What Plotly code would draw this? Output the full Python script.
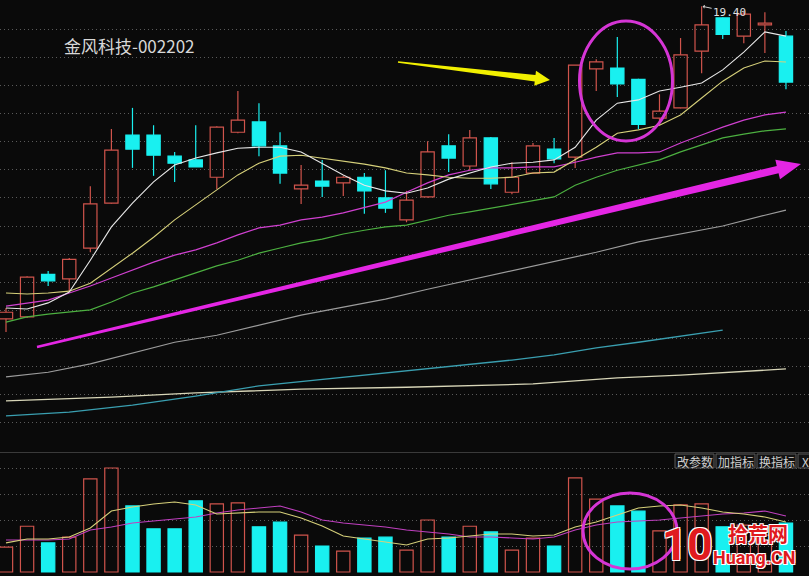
import plotly.graph_objects as go

W, H = 809, 576
BG = "#0a0a0a"
UP = "#d0544c"
DOWN = "#19f0f0"

# ---------------- daily bars ----------------
opens = [12.73, 12.77, 13.68, 13.58, 14.24, 15.20, 16.65, 16.65, 16.20, 16.12,
         15.75, 16.71, 16.93, 16.42, 15.50, 15.67, 15.63, 15.75, 15.31, 14.84,
         15.33, 16.42, 15.99, 16.59, 15.43, 15.84, 16.35, 16.18, 18.06, 18.08,
         17.84, 17.01, 17.23, 18.44, 19.15, 18.76, 19.00, 18.76]
closes = [12.87, 13.62, 13.54, 14.00, 15.18, 16.33, 16.35, 16.22, 16.05, 15.97,
          16.82, 16.97, 16.42, 15.84, 15.58, 15.56, 15.75, 15.46, 15.09, 15.26,
          16.29, 16.16, 16.59, 15.61, 15.75, 16.42, 16.14, 18.14, 18.21, 17.74,
          16.88, 17.16, 18.36, 19.00, 18.80, 19.23, 19.04, 17.78]
highs = [12.96, 13.64, 13.75, 14.03, 15.56, 16.78, 17.23, 16.86, 16.29, 16.86,
         16.84, 17.59, 17.33, 16.71, 16.01, 16.12, 15.78, 15.84, 15.90, 15.46,
         16.52, 16.67, 16.76, 16.61, 16.07, 16.48, 16.59, 18.14, 18.27, 18.74,
         17.85, 17.52, 18.72, 19.40, 19.16, 19.30, 19.27, 18.87]
lows = [12.45, 12.75, 13.43, 13.32, 14.15, 15.19, 15.95, 15.78, 15.65, 15.97,
        15.50, 16.69, 16.20, 15.61, 15.18, 15.33, 15.35, 14.97, 14.99, 14.79,
        15.32, 15.86, 15.90, 15.50, 15.39, 15.83, 16.05, 15.95, 17.59, 17.46,
        16.78, 16.86, 17.22, 17.97, 18.70, 18.61, 18.40, 17.63]
volume = [48, 88, 56, 67, 179, 200, 127, 83, 83, 137,
          131, 133, 87, 96, 71, 50, 40, 65, 67, 42,
          100, 67, 88, 77, 42, 65, 50, 181, 140, 127,
          117, 79, 129, 131, 87, 90, 71, 94]

# ---------------- moving averages (price pane) ----------------
ma5 = [12.96, 12.94, 13.07, 13.30, 13.98, 14.69, 15.20, 15.65, 16.01, 16.16,
       16.27, 16.37, 16.39, 16.39, 16.29, 16.05, 15.80, 15.58, 15.46, 15.41,
       15.52, 15.71, 15.84, 15.97, 16.05, 16.07, 16.12, 16.39, 16.97, 17.33,
       17.40, 17.59, 17.67, 17.76, 18.04, 18.42, 18.85, 18.76]
ma10 = [13.28, 13.26, 13.28, 13.32, 13.49, 13.81, 14.13, 14.47, 14.84, 15.16,
        15.48, 15.80, 16.05, 16.20, 16.22, 16.16, 16.10, 16.03, 15.95, 15.84,
        15.80, 15.75, 15.73, 15.73, 15.75, 15.84, 15.86, 16.12, 16.39, 16.69,
        16.76, 16.86, 17.08, 17.44, 17.80, 18.08, 18.23, 18.21]
ma20 = [13.00, 13.07, 13.13, 13.28, 13.43, 13.60, 13.77, 13.94, 14.09, 14.20,
        14.35, 14.52, 14.67, 14.73, 14.84, 14.90, 14.99, 15.11, 15.22, 15.43,
        15.63, 15.80, 15.90, 15.95, 15.95, 15.97, 15.97, 16.07, 16.18, 16.27,
        16.27, 16.29, 16.48, 16.65, 16.82, 16.97, 17.08, 17.14]
ma30 = [12.66, 12.77, 12.83, 12.87, 12.92, 13.09, 13.28, 13.41, 13.56, 13.71,
        13.86, 13.98, 14.13, 14.24, 14.35, 14.43, 14.54, 14.62, 14.69, 14.73,
        14.84, 14.94, 15.01, 15.09, 15.16, 15.24, 15.33, 15.58, 15.75, 15.90,
        16.01, 16.12, 16.29, 16.44, 16.59, 16.67, 16.74, 16.78]
ma60_idx = [0, 2, 4, 6, 8, 10, 12, 14, 16, 18, 20, 22, 24, 26, 28, 30, 32, 34, 36, 37]
ma60 = [11.49, 11.59, 11.77, 12.00, 12.23, 12.38, 12.60, 12.81, 12.98, 13.15,
        13.36, 13.56, 13.75, 13.96, 14.15, 14.37, 14.54, 14.71, 14.94, 15.05]
ma120_idx = [0, 3, 6, 9, 12, 15, 18, 21, 24, 26, 28, 30, 32, 34]
ma120 = [10.66, 10.74, 10.89, 11.08, 11.30, 11.44, 11.57, 11.72, 11.85, 11.96,
         12.11, 12.23, 12.36, 12.49]
ma250_idx = [0, 5, 9, 14, 19, 25, 29, 32, 37]
ma250 = [10.98, 11.06, 11.15, 11.23, 11.27, 11.34, 11.47, 11.53, 11.66]

# ---------------- volume averages ----------------
vol_ma5 = [56, 63.5, 63.5, 67.3, 84.6, 117.3, 125, 130.8, 134.6, 128.8,
           111.5, 113.5, 115.4, 115.4, 103.8, 88.5, 69.2, 63.5, 57.7, 51.9,
           63.5, 65.4, 69.2, 73.1, 73.1, 69.2, 71.2, 86.5, 96.2, 109.6,
           123.1, 126.9, 128.8, 123.1, 115.4, 111.5, 105.8, 96.2]
vol_ma10 = [61.5, 61.5, 61.5, 63.5, 80.8, 86.5, 94.2, 98.1, 101.9, 105.8,
            113.5, 119.2, 123.1, 126.9, 115.4, 100, 94.2, 90.4, 86.5, 80.8,
            76.9, 73.1, 67.3, 67.3, 65.4, 63.5, 67.3, 80.8, 90.4, 96.2,
            98.1, 100, 103.8, 107.7, 111.5, 113.5, 117.3, 107.7]

TITLE = "金风科技-002202"
HIGH_LABEL = "19.40"
TOOL_BUTTONS = ["改参数", "加指标", "换指标"]

# ---------------- pane geometry ----------------
PRICE_TOP, PRICE_STEP, PRICE_DIVS = 19.51, 0.6, 16   # grid spans px 1 .. 451
MAIN_BOT_PX = 452
VOL_TOP_PX = 453
PER_PX = PRICE_STEP * PRICE_DIVS / 450.0
price_range = [PRICE_TOP - PER_PX * (MAIN_BOT_PX - 1), PRICE_TOP + PER_PX * 1]
VOL_STEP, VOL_STEP_PX, VOL_ZERO_PX = 50, 26.0, 572
vol_range = [-(H - VOL_ZERO_PX) * VOL_STEP / VOL_STEP_PX,
             (VOL_ZERO_PX - VOL_TOP_PX) * VOL_STEP / VOL_STEP_PX]
SLOT_PX, FIRST_PX = 21.08, 6.0
x_range = [-FIRST_PX / SLOT_PX, (W - FIRST_PX) / SLOT_PX]
BODY_W = 0.63


def px(x, y):
    return x / W, 1 - y / H


n = len(opens)
idx = list(range(n))
up = [closes[i] >= opens[i] for i in idx]

fig = go.Figure()

# candle bodies
body_base = [min(opens[i], closes[i]) for i in idx]
body_h = [max(abs(closes[i] - opens[i]), 0.02) for i in idx]
for flag, col, fill in [(True, UP, "rgba(0,0,0,0)"), (False, DOWN, DOWN)]:
    sel = [i for i in idx if up[i] == flag]
    fig.add_trace(go.Bar(
        x=sel, y=[body_h[i] for i in sel], base=[body_base[i] for i in sel],
        width=BODY_W, marker=dict(color=fill, line=dict(color=col, width=1.2)),
        xaxis="x", yaxis="y"))

# wicks drawn outside the bodies
for flag, col in [(True, UP), (False, DOWN)]:
    wx, wy = [], []
    for i in idx:
        if up[i] != flag:
            continue
        top = body_base[i] + body_h[i]
        if highs[i] > top:
            wx += [i, i, None]
            wy += [highs[i], top, None]
        if lows[i] < body_base[i]:
            wx += [i, i, None]
            wy += [body_base[i], lows[i], None]
    fig.add_trace(go.Scatter(x=wx, y=wy, mode="lines",
                             line=dict(color=col, width=1.2),
                             xaxis="x", yaxis="y"))

# moving averages
for xs, ys, col, w in [
    (ma250_idx, ma250, "#d8d6b8", 1.3),
    (ma120_idx, ma120, "#3a9fb0", 1.3),
    (ma60_idx, ma60, "#9c9c9c", 1.2),
    (idx, ma30, "#4cb040", 1.2),
    (idx, ma20, "#d040d0", 1.2),
    (idx, ma10, "#d6d07a", 1.1),
    (idx, ma5, "#e8e8e8", 1.1),
]:
    fig.add_trace(go.Scatter(x=xs, y=ys, mode="lines",
                             line=dict(color=col, width=w),
                             xaxis="x", yaxis="y"))

# volume bars
for flag, col, fill in [(True, UP, "rgba(0,0,0,0)"), (False, DOWN, DOWN)]:
    sel = [i for i in idx if up[i] == flag]
    fig.add_trace(go.Bar(
        x=sel, y=[volume[i] for i in sel], width=BODY_W,
        marker=dict(color=fill, line=dict(color=col, width=1.2)),
        xaxis="x2", yaxis="y2"))
for ys, col in [(vol_ma10, "#c040c0"), (vol_ma5, "#d6d07a")]:
    fig.add_trace(go.Scatter(x=idx, y=ys, mode="lines",
                             line=dict(color=col, width=1.1),
                             xaxis="x2", yaxis="y2"))

shapes = []
annotations = []

# pane separator
_, y0 = px(0, 452.5)
shapes.append(dict(type="line", xref="paper", yref="paper", x0=0, x1=1,
                   y0=y0, y1=y0, line=dict(color="#3a3a3a", width=1)))


def poly(points):
    coords = [px(x, y) for x, y in points]
    return "M " + " L ".join(f"{a:.5f},{b:.5f}" for a, b in coords) + " Z"


def tapered_arrow(tail, tip, w_tail, w_neck, w_head, head_len):
    dx, dy = tip[0] - tail[0], tip[1] - tail[1]
    ln = (dx * dx + dy * dy) ** 0.5
    ux, uy = dx / ln, dy / ln
    nx, ny = -uy, ux
    hx, hy = tip[0] - ux * head_len, tip[1] - uy * head_len
    return [
        (tail[0] + nx * w_tail, tail[1] + ny * w_tail),
        (hx + nx * w_neck, hy + ny * w_neck),
        (hx + nx * w_head, hy + ny * w_head),
        tip,
        (hx - nx * w_head, hy - ny * w_head),
        (hx - nx * w_neck, hy - ny * w_neck),
        (tail[0] - nx * w_tail, tail[1] - ny * w_tail),
    ]


# yellow pointer
shapes.append(dict(type="path", xref="paper", yref="paper",
                   path=poly(tapered_arrow((398, 62), (550, 80), 0.7, 3.2, 7.5, 15)),
                   fillcolor="#f2f000", line=dict(width=0)))
# long magenta trend arrow
shapes.append(dict(type="path", xref="paper", yref="paper",
                   path=poly(tapered_arrow((37, 347), (801, 164), 1.2, 3.8, 10, 24)),
                   fillcolor="#e426e4", line=dict(width=0)))

# ellipses
for (cx, cy, rx, ry) in [(626, 81, 46.5, 60), (630, 531, 47, 38)]:
    a0, b0 = px(cx - rx, cy + ry)
    a1, b1 = px(cx + rx, cy - ry)
    shapes.append(dict(type="circle", xref="paper", yref="paper",
                       x0=a0, x1=a1, y0=b0, y1=b1,
                       line=dict(color="#d535d5", width=3)))

# toolbar buttons in the volume pane
btn_x = [(675, 714), (716, 755), (757, 796), (798, 812)]
btn_txt = TOOL_BUTTONS + ["X"]
for (l, r), t in zip(btn_x, btn_txt):
    a0, b0 = px(l, 468)
    a1, b1 = px(r, 454)
    shapes.append(dict(type="rect", xref="paper", yref="paper",
                       x0=a0, x1=a1, y0=b0, y1=b1,
                       fillcolor="#121212", line=dict(color="#5a5a5a", width=1)))
    cx, cy = px((l + r) / 2, 461)
    annotations.append(dict(xref="paper", yref="paper", x=cx, y=cy, text=t,
                            showarrow=False, xanchor="center", yanchor="middle",
                            font=dict(family="Noto Sans CJK SC", size=12,
                                      color="#cfcfcf")))

# title
tx, ty = px(62, 45)
annotations.append(dict(xref="paper", yref="paper", x=tx, y=ty, text=TITLE,
                        showarrow=False, xanchor="left", yanchor="middle",
                        font=dict(family="Noto Sans CJK SC", size=17,
                                  color="#d8d8d8")))

# high-price marker
hi_i = max(idx, key=lambda i: highs[i])
annotations.append(dict(x=hi_i, y=highs[hi_i], xref="x", yref="y",
                        text=HIGH_LABEL, showarrow=True, arrowhead=1,
                        arrowsize=0.7, arrowwidth=1, arrowcolor="#d0d0d0",
                        ax=28, ay=6, standoff=1,
                        font=dict(family="DejaVu Sans Mono", size=11,
                                  color="#e0e0e0")))

# site watermark
outline = "1px 1px 0 #fff, -1px -1px 0 #fff, 1px -1px 0 #fff, -1px 1px 0 #fff"
for text, (x, y), size, fam in [
    ("10", (687, 545), 44, "Roboto"),
    ("拾荒网", (758, 533), 20, "Noto Sans CJK SC"),
    ("Huang.CN", (754, 557), 18, "Roboto"),
]:
    ax_, ay_ = px(x, y)
    annotations.append(dict(xref="paper", yref="paper", x=ax_, y=ay_, text=text,
                            showarrow=False, xanchor="center", yanchor="middle",
                            font=dict(family=fam, size=size, color="#e01a1e",
                                      weight="bold", shadow=outline)))

main_dom = [1 - MAIN_BOT_PX / H, 1]
vol_dom = [0, 1 - VOL_TOP_PX / H]

grid = dict(showgrid=True, gridcolor="#5a5a5a", griddash="1px,3px", gridwidth=1,
            showticklabels=False, ticks="", zeroline=False, showline=False)

fig.update_layout(
    width=W, height=H,
    margin=dict(l=0, r=0, t=0, b=0),
    paper_bgcolor=BG, plot_bgcolor=BG,
    showlegend=False, hovermode=False, barmode="overlay",
    xaxis=dict(domain=[0, 1], range=x_range, anchor="y", visible=False),
    xaxis2=dict(domain=[0, 1], range=x_range, anchor="y2", visible=False,
                matches="x"),
    yaxis=dict(domain=main_dom, range=price_range,
               tickvals=[PRICE_TOP - PRICE_STEP * j for j in range(1, PRICE_DIVS)],
               **grid),
    yaxis2=dict(domain=vol_dom, range=vol_range,
                tickvals=[VOL_STEP * j for j in range(1, 5)], **grid),
    shapes=shapes,
    annotations=annotations,
)

fig.write_html("out.html")
